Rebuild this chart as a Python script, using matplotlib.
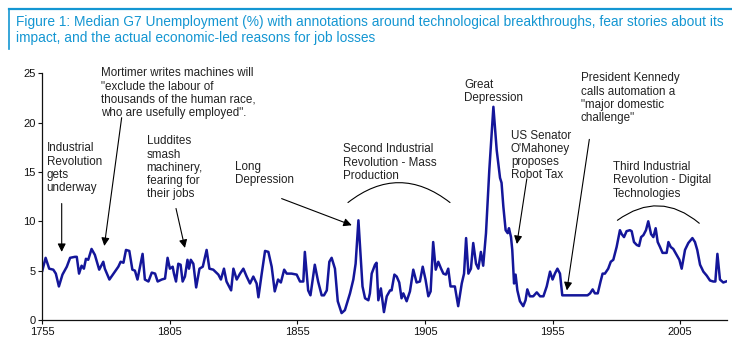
import matplotlib
matplotlib.use("Agg")
import matplotlib.pyplot as plt
from matplotlib.lines import Line2D

# ── data ─────────────────────────────────────────────────────────────────────
years = [
    1755.0, 1756.3, 1757.7, 1759.3, 1760.3, 1761.5, 1762.9, 1764.6, 1765.9, 1767.8,
    1768.5, 1769.4, 1770.4, 1771.3, 1772.1, 1773.0, 1774.3, 1775.6, 1777.3, 1778.9,
    1779.5, 1781.3, 1782.9, 1784.8, 1785.7, 1786.8, 1787.8, 1789.1, 1790.3, 1791.3,
    1792.3, 1793.3, 1794.3, 1795.2, 1796.6, 1797.9, 1799.2, 1800.2, 1801.8, 1803.1,
    1804.1, 1805.0, 1806.1, 1806.6, 1807.4, 1808.3, 1809.2, 1810.0, 1810.9, 1811.9,
    1812.5, 1813.2, 1814.2, 1815.3, 1816.6, 1817.9, 1819.4, 1820.5, 1822.0, 1824.0,
    1825.0, 1826.2, 1827.2, 1829.0, 1829.9, 1831.2, 1832.5, 1833.8, 1835.1, 1836.4,
    1837.7, 1839.0, 1839.7, 1841.0, 1842.3, 1843.6, 1844.9, 1846.1, 1847.4, 1848.5,
    1849.8, 1850.8, 1852.7, 1854.7, 1856.0, 1857.3, 1857.9, 1859.2, 1860.1, 1861.8,
    1863.1, 1864.5, 1865.4, 1866.5, 1867.5, 1868.4, 1869.7, 1870.8, 1872.3, 1873.6,
    1875.6, 1876.9, 1877.8, 1878.9, 1880.5, 1881.5, 1882.8, 1883.4, 1884.1, 1885.4,
    1886.0, 1886.7, 1887.7, 1888.9, 1890.0, 1891.3, 1891.9, 1893.0, 1893.9, 1894.9,
    1895.8, 1896.5, 1897.8, 1899.1, 1900.4, 1901.7, 1903.0, 1904.1, 1905.2, 1906.3,
    1907.2, 1908.2, 1909.2, 1910.2, 1911.3, 1912.2, 1913.2, 1914.1, 1915.0, 1916.7,
    1918.0, 1919.4, 1920.3, 1921.1, 1922.0, 1923.0, 1923.9, 1925.0, 1925.9, 1926.9,
    1927.8, 1928.9, 1930.2, 1931.8, 1933.1, 1934.4, 1935.0, 1935.7, 1936.6, 1937.4,
    1937.9, 1938.7, 1939.2, 1939.9, 1940.5, 1941.2, 1942.2, 1943.5, 1944.4, 1945.1,
    1946.1, 1947.4, 1948.8, 1950.1, 1951.4, 1952.7, 1954.0, 1955.0, 1955.9, 1956.9,
    1957.9, 1958.8, 1968.7, 1969.7, 1970.7, 1971.6, 1972.7, 1973.8, 1974.6, 1975.5,
    1976.8, 1977.8, 1978.8, 1980.1, 1981.4, 1982.1, 1983.0, 1984.0, 1985.3, 1986.0,
    1986.9, 1988.0, 1988.9, 1989.7, 1990.6, 1991.6, 1992.5, 1993.6, 1994.5, 1995.4,
    1996.2, 1997.1, 1998.1, 1999.1, 1999.7, 2000.4, 2001.3, 2002.3, 2003.6, 2004.7,
    2005.6, 2006.9, 2008.2, 2009.8, 2010.8, 2011.7, 2012.8, 2014.1, 2015.4, 2016.7,
    2018.0, 2018.8, 2019.6, 2020.6, 2021.9, 2023.0,
]
unemployment = [
    5.0, 6.3, 5.2, 5.1, 4.7, 3.4, 4.6, 5.4, 6.3, 6.4,
    6.4, 4.7, 5.5, 5.2, 6.2, 6.1, 7.2, 6.6, 5.1, 5.9,
    5.2, 4.1, 4.7, 5.4, 5.9, 5.8, 7.1, 7.0, 5.1, 5.0,
    4.1, 5.4, 6.7, 4.1, 3.9, 4.8, 4.7, 3.9, 4.1, 4.2,
    6.3, 5.2, 5.4, 4.7, 3.9, 5.7, 5.6, 3.9, 4.4, 6.1,
    5.2, 6.1, 5.7, 3.3, 5.2, 5.4, 7.1, 5.2, 5.1, 4.6,
    4.1, 5.2, 3.9, 3.0, 5.2, 4.1, 4.7, 5.2, 4.4, 3.7,
    4.4, 3.7, 2.3, 4.7, 7.0, 6.9, 5.4, 2.9, 4.1, 3.8,
    5.1, 4.7, 4.7, 4.6, 3.9, 3.9, 6.9, 3.0, 2.5, 5.6,
    3.9, 2.5, 2.5, 3.0, 5.9, 6.3, 5.2, 1.9, 0.7, 1.0,
    2.7, 4.1, 5.7, 10.1, 3.4, 2.2, 2.0, 2.7, 4.7, 5.6,
    5.8, 2.0, 3.2, 0.8, 2.4, 3.0, 3.0, 4.6, 4.4, 3.8,
    2.2, 2.7, 1.9, 2.9, 5.1, 3.8, 3.9, 5.4, 4.1, 2.4,
    2.9, 7.9, 5.1, 5.9, 5.2, 4.7, 4.6, 5.2, 3.4, 3.4,
    1.4, 3.7, 4.7, 8.3, 4.7, 5.2, 7.8, 5.7, 5.2, 6.9,
    5.5, 8.8, 15.2, 21.6, 17.2, 14.4, 13.9, 11.5, 9.1, 8.8,
    9.3, 8.4, 7.1, 3.7, 4.6, 3.0, 1.9, 1.4, 2.0, 3.1,
    2.4, 2.4, 2.8, 2.4, 2.4, 3.4, 4.9, 4.1, 4.7, 5.2,
    4.7, 2.5, 2.5, 2.7, 3.1, 2.7, 2.7, 3.9, 4.7, 4.7,
    5.2, 5.9, 6.1, 7.4, 9.1, 8.7, 8.4, 9.0, 9.1, 9.0,
    7.9, 7.6, 7.5, 8.4, 8.6, 9.1, 10.0, 8.7, 8.4, 9.3,
    7.9, 7.4, 6.8, 6.8, 6.8, 7.9, 7.4, 7.2, 6.6, 6.1,
    5.2, 7.1, 7.8, 8.3, 7.9, 7.1, 5.6, 4.9, 4.5, 4.0,
    3.9, 3.9, 6.7, 4.1, 3.8, 3.9,
]
x_ticks = [1755, 1805, 1855, 1905, 1955, 2005]
y_ticks = [0, 5, 10, 15, 20, 25]

TITLE = ("Figure 1: Median G7 Unemployment (%) with annotations around technological "
         "breakthroughs, fear stories about its\nimpact, and the actual economic-led "
         "reasons for job losses")

# (text, text position, arrow start, arrow end)
arrow_notes = [
    ("Industrial\nRevolution\ngets\nunderway", (1756.7, 18.0), (1762.6, 11.8), (1762.6, 6.9)),
    ("Mortimer writes machines will\n\"exclude the labour of\nthousands of the human race,\n"
     "who are usefully employed\".", (1778.0, 25.6), (1786.1, 20.5), (1779.3, 7.5)),
    ("Luddites\nsmash\nmachinery,\nfearing for\ntheir jobs", (1795.9, 18.7), (1807.4, 11.3), (1810.9, 7.3)),
    ("Long\nDepression", (1830.5, 16.1), (1848.8, 12.3), (1876.3, 9.6)),
    ("US Senator\nO'Mahoney\nproposes\nRobot Tax", (1938.7, 19.3), (1944.9, 14.3), (1941.0, 7.7)),
    ("President Kennedy\ncalls automation a\n\"major domestic\nchallenge\"", (1966.1, 25.1), (1969.4, 18.3), (1960.6, 3.0)),
]
# (text, text position, arc left end, arc right end)
arc_notes = [
    ("Second Industrial\nRevolution - Mass\nProduction", (1872.9, 17.9), (1874.8, 11.9), (1914.8, 11.9)),
    ("Third Industrial\nRevolution - Digital\nTechnologies", (1978.7, 16.1), (1980.4, 10.1), (2012.5, 9.8)),
]
plain_notes = [
    ("Great\nDepression", (1920.3, 24.4)),
]

# ── plot ──────────────────────────────────────────────────────────────────────
plt.rcParams["font.family"] = ["Liberation Sans", "DejaVu Sans"]
TEXT_COL = "#222222"
TITLE_COL = "#1496d2"
NOTE_KW = dict(fontsize=8.4, color=TEXT_COL, va="top", ha="left", linespacing=1.14)

fig = plt.figure(figsize=(7.32, 3.49), dpi=100)
ax = fig.add_axes([0.0578, 0.0831, 0.9355, 0.707])

ax.plot(years, unemployment, color="#14169a", lw=1.8, solid_joinstyle="round")

ax.set_xlim(1755, 2023.4)
ax.set_ylim(0, 25)
ax.set_xticks(x_ticks)
ax.set_yticks(y_ticks)
ax.tick_params(labelsize=8, length=3, width=0.8, colors="#111111", pad=2)
for side in ("top", "right"):
    ax.spines[side].set_visible(False)
for side in ("left", "bottom"):
    ax.spines[side].set_linewidth(0.9)
    ax.spines[side].set_color("#111111")

for text, pos, start, end in arrow_notes:
    ax.text(*pos, text, **NOTE_KW)
    ax.annotate("", xy=end, xytext=start,
                arrowprops=dict(arrowstyle="-|>", color="black", lw=0.8,
                                mutation_scale=12, shrinkA=0, shrinkB=0))

for text, pos, left, right in arc_notes:
    ax.text(*pos, text, **NOTE_KW)
    ax.annotate("", xy=right, xytext=left,
                arrowprops=dict(arrowstyle="-", color="black", lw=0.8,
                                connectionstyle="arc3,rad=-0.39",
                                shrinkA=0, shrinkB=0))

for text, pos in plain_notes:
    ax.text(*pos, text, **NOTE_KW)

# title block with the blue rule on top and left
fig.add_artist(Line2D([9 / 732, 1.0], [1 - 9 / 349, 1 - 9 / 349],
                      color=TITLE_COL, lw=1.6, transform=fig.transFigure))
fig.add_artist(Line2D([9 / 732, 9 / 732], [1 - 9 / 349, 1 - 49 / 349],
                      color=TITLE_COL, lw=1.2, transform=fig.transFigure))
fig.text(16 / 732, 1 - 15 / 349, TITLE, fontsize=9.9, color=TITLE_COL,
         va="top", ha="left", linespacing=1.2)

fig.savefig("out.png", dpi=100)
